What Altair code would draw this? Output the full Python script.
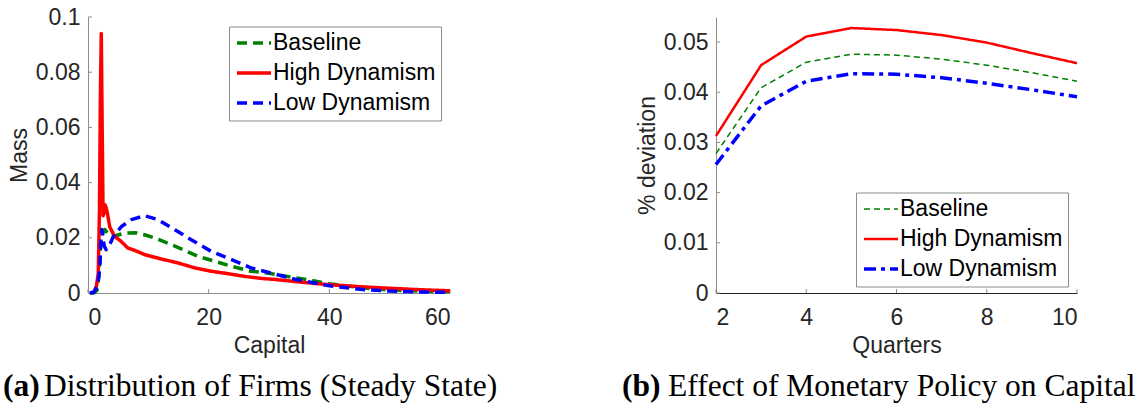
import altair as alt
import pandas as pd

series = ["Baseline", "High Dynamism", "Low Dynamism"]
colors = ["#008000", "#ff0000", "#0000ff"]

# ---- Panel (a): Distribution of firms (steady state) ----
base_k = [0.3, 1.0, 1.5, 1.8, 2.0, 2.3, 2.8, 3.3, 3.9, 5.0, 6.0, 8.0, 9.5, 11.0, 14.4,
          18.2, 21.0, 23.8, 27.0, 29.8, 33.0, 36.5, 39.8, 45.9, 50.0, 55.0, 60.0]
base_m = [0.0, 0.0, 0.001, 0.006, 0.015, 0.021, 0.023, 0.0215, 0.0205, 0.021, 0.0217, 0.0218,
          0.021, 0.020, 0.017, 0.0133, 0.0115, 0.0097, 0.0079, 0.0072, 0.006, 0.0048, 0.0034,
          0.0018, 0.0011, 0.0007, 0.0005]

high_k = [0.5, 1.0, 1.4, 1.7, 1.9, 2.05, 2.2, 2.35, 2.5, 2.65, 2.8, 3.0, 3.2, 3.6, 4.4, 5.5,
          6.6, 7.7, 9.4, 12.2, 14.9, 17.7, 20.4, 23.2, 26.0, 28.7, 31.5, 35.0, 40.0, 45.0,
          50.0, 55.0, 60.0]
high_m = [0.0, 0.0005, 0.0025, 0.007, 0.03, 0.07, 0.094, 0.06, 0.028, 0.029, 0.032, 0.031,
          0.029, 0.024, 0.0205, 0.0187, 0.0163, 0.0155, 0.0139, 0.0123, 0.0109, 0.0091, 0.0079,
          0.007, 0.006, 0.0053, 0.0048, 0.004, 0.003, 0.0023, 0.0017, 0.0012, 0.0008]

low_k = [0.3, 1.0, 1.5, 1.8, 2.0, 2.15, 2.3, 2.5, 2.7, 3.0, 3.5, 4.1, 5.5, 7.2, 9.4, 11.6,
         14.4, 17.1, 20.4, 23.8, 27.0, 30.4, 34.3, 37.6, 40.3, 45.9, 50.0, 55.0, 60.0]
low_m = [0.0, 0.0003, 0.0024, 0.006, 0.011, 0.02, 0.023, 0.0195, 0.017, 0.0157, 0.017, 0.020,
         0.024, 0.0266, 0.028, 0.0266, 0.0229, 0.0193, 0.0151, 0.0121, 0.0091, 0.0072, 0.005,
         0.0036, 0.0025, 0.0012, 0.0007, 0.0004, 0.0002]

# ---- Panel (b): effect of monetary policy on capital ----
quarters = [2, 3, 4, 5, 6, 7, 8, 9, 10]
base_dev = [0.0278, 0.0409, 0.0460, 0.0476, 0.0474, 0.0466, 0.0454, 0.0439, 0.0422]
high_dev = [0.0313, 0.0454, 0.0511, 0.0528, 0.0524, 0.0514, 0.0499, 0.0478, 0.0458]
low_dev = [0.0256, 0.0373, 0.0422, 0.0437, 0.0436, 0.0429, 0.0418, 0.0405, 0.0391]

a_xticks = [0, 20, 40, 60]
a_yticks = [0, 0.02, 0.04, 0.06, 0.08, 0.1]
b_xticks = [2, 4, 6, 8, 10]
b_yticks = [0, 0.01, 0.02, 0.03, 0.04, 0.05]


def frame(xs_list, ys_list):
    rows = []
    for name, xs, ys in zip(series, xs_list, ys_list):
        for xv, yv in zip(xs, ys):
            rows.append({"x": xv, "y": yv, "series": name})
    return pd.DataFrame(rows)


df_a = frame([base_k, high_k, low_k], [base_m, high_m, low_m])
df_b = frame([quarters] * 3, [base_dev, high_dev, low_dev])

FONT = "Liberation Sans"
SERIF = "Liberation Serif"
CAP_SIZE = 31.5
H = 276
AX = dict(labelFont=FONT, labelFontSize=23, labelColor="#262626",
          titleFont=FONT, titleFontSize=23, titleFontWeight="normal", titleColor="#262626",
          ticks=False, tickSize=0, domainWidth=1, grid=False)


def panel(df, W, xdom, ydom, xticks, yticks, xtitle, ytitle, dashes, widths,
          lx, ly, xdomain_color, ydomain_color, tag, caption, tag_x, cap_x):
    xaxis = alt.Axis(values=xticks, format="d", title=xtitle, domainColor=xdomain_color,
                     labelPadding=13, titlePadding=5, **AX)
    yaxis = alt.Axis(values=yticks, format=".2~f", title=ytitle, domainColor=ydomain_color,
                     labelPadding=8, titlePadding=4, **AX)
    x = alt.X("x:Q", scale=alt.Scale(domain=xdom, nice=False, zero=False), axis=xaxis)
    y = alt.Y("y:Q", scale=alt.Scale(domain=ydom, nice=False, zero=False), axis=yaxis)

    legend = alt.Legend(orient="none", legendX=lx, legendY=ly, title=None,
                        strokeColor="#8c8c8c", fillColor="white", padding=5,
                        labelFont=FONT, labelFontSize=23, labelColor="black",
                        labelLimit=400, symbolType="M-1,0H3", symbolSize=289,
                        labelOffset=16, rowPadding=6)

    lines = alt.Chart(df).mark_line(strokeJoin="round", strokeCap="butt").encode(
        x=x, y=y,
        color=alt.Color("series:N", scale=alt.Scale(domain=series, range=colors),
                        legend=legend),
        strokeDash=alt.StrokeDash("series:N", scale=alt.Scale(domain=series, range=dashes),
                                  legend=legend),
        strokeWidth=alt.StrokeWidth("series:N", scale=alt.Scale(domain=series, range=widths),
                                    legend=legend),
    )

    xt = alt.Chart(pd.DataFrame({"x": xticks})).mark_rule(color="#8c8c8c", strokeWidth=1).encode(
        x=x, y=alt.value(H), y2=alt.value(H - 4))
    yt = alt.Chart(pd.DataFrame({"y": yticks})).mark_rule(color="#8c8c8c", strokeWidth=1).encode(
        y=y, x=alt.value(0), x2=alt.value(4))

    cap_df = pd.DataFrame({"tag": [tag], "cap": [caption]})
    tag_mark = alt.Chart(cap_df).mark_text(
        font=SERIF, fontSize=CAP_SIZE, fontWeight="bold", align="left", baseline="alphabetic",
        color="black").encode(text="tag:N", x=alt.value(tag_x), y=alt.value(H + 103))
    cap_mark = alt.Chart(cap_df).mark_text(
        font=SERIF, fontSize=CAP_SIZE, align="left", baseline="alphabetic",
        color="black").encode(text="cap:N", x=alt.value(cap_x), y=alt.value(H + 103))

    return alt.layer(xt, yt, lines, tag_mark, cap_mark).properties(width=W, height=H)


panel_a = panel(df_a, 362, [0, 60], [0, 0.1], a_xticks, a_yticks, "Capital", "Mass",
                [[10, 6], [1, 0], [10, 6]], [3.5, 3.5, 4],
                141, 9.5, "#8c8c8c", "#8c8c8c",
                "(a)", "Distribution of Firms (Steady State)", -85, -44)

panel_b = panel(df_b, 361, [2, 10], [0, 0.055], b_xticks, b_yticks, "Quarters", "% deviation",
                [[6, 4], [1, 0], [12, 5, 4, 5]], [1.5, 3.5, 3.5],
                140, 175.5, "#262626", "#8c8c8c",
                "(b)", "Effect of Monetary Policy on Capital", -94, -48)

chart = alt.hconcat(panel_a, panel_b, spacing=124).resolve_scale(
    color="independent", strokeDash="independent", strokeWidth="independent"
).properties(
    padding={"left": 3, "top": 6, "right": 0, "bottom": 0},
    background="white"
).configure_view(stroke=None)

chart.save("out.html", embed_options={"renderer": "svg", "actions": False})
